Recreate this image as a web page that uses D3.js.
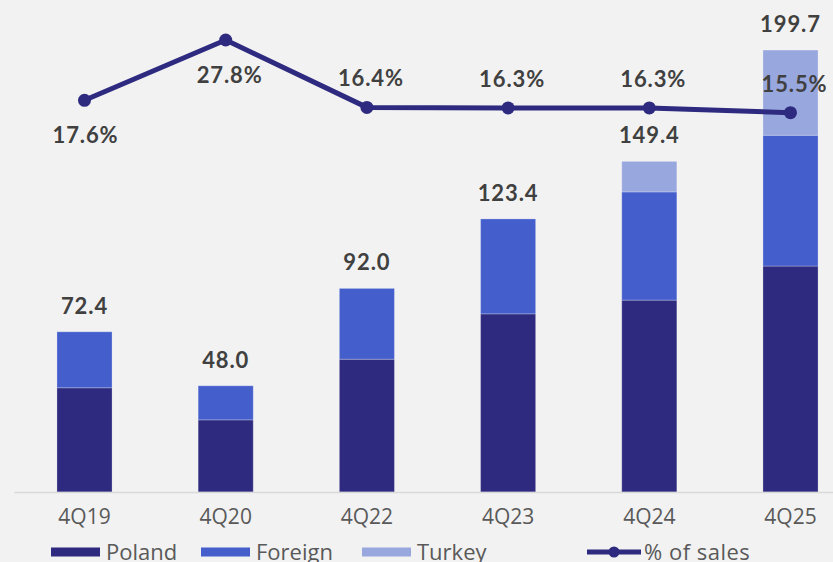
<!DOCTYPE html>
<html>
<head>
<meta charset="utf-8">
<script src="https://cdn.jsdelivr.net/npm/d3@7"></script>
<style>
  html, body { margin: 0; padding: 0; background: #f2f2f2; overflow: hidden; }
  svg { display: block; }
</style>
</head>
<body>
<svg id="chart" width="833" height="562"></svg>
<script>
// Quarterly results, PLN m, split by market, plus share of sales
const quarters = ["4Q19", "4Q20", "4Q22", "4Q23", "4Q24", "4Q25"];
const poland   = [47.1, 32.6, 60.0, 80.5, 86.7, 102.1];
const foreign  = [25.3, 15.4, 32.0, 42.9, 48.9, 59.1];
const turkey   = [0, 0, 0, 0, 13.8, 38.5];
const totals   = [72.4, 48.0, 92.0, 123.4, 149.4, 199.7];
const pctSales = [17.6, 27.8, 16.4, 16.3, 16.3, 15.5];
const pctLabelSide = ["below", "below", "above", "above", "above", "above"];

const seriesNames  = ["Poland", "Foreign", "Turkey"];
const seriesColors = ["#2e2a7f", "#445fcc", "#99a7df"];
const lineName  = "% of sales";
const lineColor = "#2e2a80";

const svg = d3.select("#chart");
const baseY = 492;

const x = d3.scaleBand()
  .domain(quarters)
  .range([13.9, 861.1])
  .paddingInner(0.61)
  .paddingOuter(0.305);

const y = d3.scaleLinear().domain([0, 200]).range([baseY, baseY - 200 * 2.213]);
const y2 = d3.scaleLinear().domain([0, 30]).range([204.3, 204.3 - 30 * 5.91]);

// stacked bars
const rows = quarters.map((q, i) => ({ q, Poland: poland[i], Foreign: foreign[i], Turkey: turkey[i] }));
const stacked = d3.stack().keys(seriesNames)(rows);

svg.append("g").selectAll("g")
  .data(stacked)
  .join("g")
  .attr("fill", (d, i) => seriesColors[i])
  .selectAll("rect")
  .data(d => d.filter(s => s[1] - s[0] > 0))
  .join("rect")
  .attr("x", d => x(d.data.q))
  .attr("width", x.bandwidth())
  .attr("y", d => y(d[1]))
  .attr("height", d => y(d[0]) - y(d[1]))
  .attr("stroke", "rgba(255,255,255,0.25)")
  .attr("stroke-width", 1);

// category axis along the baseline
const axis = svg.append("g")
  .attr("transform", `translate(0,${baseY})`)
  .call(d3.axisBottom(x).tickSize(0).tickPadding(17));
axis.select(".domain").attr("stroke", "#d9d9d9").attr("stroke-width", 1.6);
axis.selectAll("text")
  .attr("fill", "#595959")
  .style("font-family", "'Open Sans', sans-serif")
  .style("font-size", "21px");

const labelStyle = sel => sel
  .attr("text-anchor", "middle")
  .attr("fill", "#404040")
  .style("font-family", "Lato, sans-serif")
  .style("font-weight", 700)
  .style("font-size", "22px")
  .style("letter-spacing", "0.9px");

// total labels above bars
svg.append("g").selectAll("text")
  .data(totals)
  .join("text")
  .attr("x", (d, i) => x(quarters[i]) + x.bandwidth() / 2)
  .attr("y", d => y(d) - 18)
  .call(labelStyle)
  .text(d => d.toFixed(1));

// share-of-sales line
const cx = i => x(quarters[i]) + x.bandwidth() / 2;
const line = d3.line().x((d, i) => cx(i)).y(d => y2(d));
svg.append("path")
  .datum(pctSales)
  .attr("d", line)
  .attr("fill", "none")
  .attr("stroke", lineColor)
  .attr("stroke-width", 5)
  .attr("stroke-linejoin", "round");
svg.append("g").selectAll("circle")
  .data(pctSales)
  .join("circle")
  .attr("cx", (d, i) => cx(i))
  .attr("cy", d => y2(d))
  .attr("r", 6.5)
  .attr("fill", lineColor);

svg.append("g").selectAll("text")
  .data(pctSales)
  .join("text")
  .attr("x", (d, i) => cx(i) + (i === 0 ? 1 : 4))
  .attr("y", (d, i) => y2(d) + (pctLabelSide[i] === "below" ? 43 : -21))
  .call(labelStyle)
  .text(d => d.toFixed(1) + "%");

// legend
const legend = svg.append("g").attr("transform", "translate(0,552)");
const legendX = [51, 201, 362];
seriesNames.forEach((name, i) => {
  const g = legend.append("g").attr("transform", `translate(${legendX[i]},0)`);
  g.append("rect").attr("x", 0).attr("y", -4.5).attr("width", 49).attr("height", 9).attr("fill", seriesColors[i]);
  g.append("text").attr("x", 55).attr("y", 8)
    .attr("fill", "#595959")
    .style("font-family", "'Open Sans', sans-serif")
    .style("font-size", "22px")
    .text(name);
});
const lg = legend.append("g").attr("transform", "translate(587,0)");
lg.append("line").attr("x1", 0).attr("x2", 54).attr("y1", 0).attr("y2", 0)
  .attr("stroke", lineColor).attr("stroke-width", 5);
lg.append("circle").attr("cx", 27).attr("cy", 0).attr("r", 5.5).attr("fill", lineColor);
lg.append("text").attr("x", 57).attr("y", 8)
  .attr("fill", "#595959")
  .style("font-family", "'Open Sans', sans-serif")
  .style("font-size", "22px")
  .style("letter-spacing", "0.5px")
  .text(lineName);
</script>
</body>
</html>
